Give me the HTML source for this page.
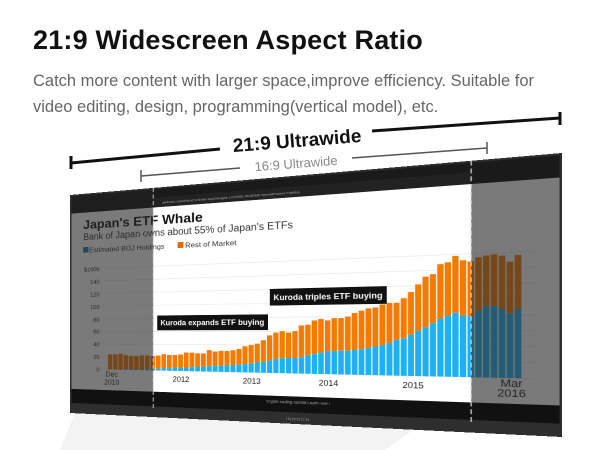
<!DOCTYPE html>
<html><head><meta charset="utf-8"><style>
html,body{margin:0;padding:0;background:#fff;width:600px;height:450px;overflow:hidden;font-family:"Liberation Sans",sans-serif}
#h{position:absolute;left:33px;top:25px;font-size:27px;font-weight:bold;color:#111;letter-spacing:0.2px}
#s{position:absolute;left:33px;top:68px;font-size:16.5px;line-height:26px;color:#666;width:530px}
#mon{position:absolute;left:0;top:0;width:520px;height:280px;transform-origin:0 0;background:#2e2e2e}
</style></head><body>
<svg width="600" height="450" style="position:absolute;left:0;top:0">
<polygon points="75,412 420,425 385,450 60,450" fill="#f3f3f3"/>
</svg>
<div id="h">21:9 Widescreen Aspect Ratio</div>
<div id="s">Catch more content with larger space,improve efficiency. Suitable for video editing, design, programming(vertical model), etc.</div>
<div id="mon">
<svg width="520" height="280" viewBox="0 0 520 280" style="position:absolute;left:0;top:0">
<rect x="0" y="0" width="520" height="280" fill="#2e2e2e"/>
<rect x="2" y="2" width="516" height="265" fill="#1a1a1a"/>
<rect x="109" y="12" width="334" height="12" fill="#222"/>
<text x="120" y="20" font-size="4" fill="#aaa">attributes   GameViewController   AppDelegate   LICENSE   README   SpecialPowers   Partition</text>
<rect x="2" y="24" width="516" height="225" fill="#fff"/>
<g id="bars"></g>
<g font-family="Liberation Sans" font-size="7.5" fill="#333" text-anchor="end">
<text x="40" y="99">$160b</text><text x="40" y="115">140</text><text x="40" y="131">120</text><text x="40" y="147">100</text><text x="40" y="163">80</text><text x="40" y="178">60</text><text x="40" y="194">40</text><text x="40" y="210">20</text><text x="40" y="226">0</text>
</g>
<text x="18" y="45" font-size="16" font-weight="bold" fill="#111" textLength="151" lengthAdjust="spacingAndGlyphs">Japan's ETF Whale</text>
<text x="18" y="59" font-size="12" fill="#333" textLength="252" lengthAdjust="spacingAndGlyphs">Bank of Japan owns about 55% of Japan's ETFs</text>
<rect x="18" y="68" width="7" height="7" fill="#1a7fb8"/><text x="26" y="75" font-size="8" fill="#333" textLength="97" lengthAdjust="spacingAndGlyphs">Estimated BOJ Holdings</text>
<rect x="139" y="68" width="7" height="7" fill="#e06a00"/><text x="148" y="75" font-size="8" fill="#333" textLength="60" lengthAdjust="spacingAndGlyphs">Rest of Market</text>
<g font-size="9" fill="#222" text-anchor="middle">
<text x="56" y="232">Dec</text><text x="56" y="242">2010</text>
<text x="143" y="236">2012</text><text x="225" y="236">2013</text><text x="307" y="236">2014</text><text x="390" y="236">2015</text>
<text x="478" y="232" font-size="11">Mar</text><text x="478" y="242" font-size="11">2016</text>
</g>
<rect x="114" y="156" width="129" height="18" fill="#111"/><text x="118" y="168" font-size="9" font-weight="bold" fill="#fff" textLength="121" lengthAdjust="spacingAndGlyphs">Kuroda expands ETF buying</text>
<rect x="245" y="127" width="120" height="19" fill="#111"/><text x="249" y="140" font-size="9.5" font-weight="bold" fill="#fff" textLength="112" lengthAdjust="spacingAndGlyphs">Kuroda triples ETF buying</text>
<rect x="2" y="24" width="107" height="225" fill="rgba(40,40,40,0.62)"/>
<rect x="443" y="24" width="75" height="225" fill="rgba(40,40,40,0.62)"/>
<rect x="2" y="2" width="107" height="22" fill="#1e1e1e"/>
<rect x="2" y="249" width="516" height="18" fill="#111"/>
<text x="275" y="257" font-size="4.5" fill="#aaa" text-anchor="middle">Crypto trading tutorial  Learn now ›</text>
<text x="275" y="276" font-size="5" fill="#999" text-anchor="middle" letter-spacing="1">INNOCN</text>
<line x1="109" y1="0" x2="109" y2="270" stroke="#ccc" stroke-width="1.2" stroke-dasharray="5,3"/>
<line x1="443" y1="0" x2="443" y2="270" stroke="#ccc" stroke-width="1.2" stroke-dasharray="5,3"/>
</svg>
</div>
<svg width="600" height="450" style="position:absolute;left:0;top:0">
<line x1="71" y1="163" x2="220" y2="149" stroke="#111" stroke-width="3"/>
<line x1="372" y1="131" x2="560" y2="118" stroke="#111" stroke-width="3"/>
<line x1="71" y1="156" x2="71" y2="169" stroke="#111" stroke-width="3"/>
<line x1="560" y1="112" x2="560" y2="125" stroke="#111" stroke-width="3"/>
<text x="297" y="147" font-size="19" font-weight="bold" fill="#111" text-anchor="middle" transform="rotate(-4.5 297 140)">21:9 Ultrawide</text>
<line x1="141" y1="176" x2="240" y2="168" stroke="#555" stroke-width="1.5"/>
<line x1="352" y1="158" x2="487" y2="148" stroke="#555" stroke-width="1.5"/>
<line x1="141" y1="170" x2="141" y2="182" stroke="#555" stroke-width="1.5"/>
<line x1="487" y1="142" x2="487" y2="154" stroke="#555" stroke-width="1.5"/>
<text x="296" y="168" font-size="13" fill="#888" text-anchor="middle" transform="rotate(-4.5 296 163)">16:9 Ultrawide</text>
</svg>
<script>
var T=[24,24,25,23,22,22,23,23,22,23,25,24,24,25,28,28,27,27,32,30,31,31,32,34,38,40,42,47,54,58,60,58,60,68,69,75,77,75,78,78,80,85,88,91,92,96,98,98,104,112,122,132,135,148,150,158,152,150,155,157,158,156,148,156];
var B=[0,0,0,1,1,1,1,2,2,3,4,4,5,5,5,6,7,7,8,9,9,10,10,11,12,13,15,16,18,20,21,22,22,23,26,28,30,32,32,33,33,34,35,37,39,41,44,48,50,55,60,65,70,76,80,84,80,79,86,92,92,88,82,88];
var g=document.getElementById('bars'),s='',x0=51,w=6.82,base=223,k=0.795;
for(var j=0;j<9;j++){var y=base-j*15.9;s+='<line x1="44" x2="500" y1="'+y+'" y2="'+y+'" stroke="#e4e4e4" stroke-width="0.6"/>';}
for(var i=0;i<T.length;i++){var x=x0+i*w;var ht=T[i]*k,hb=B[i]*k;
s+='<rect x="'+x+'" y="'+(base-ht)+'" width="'+(w-1.1)+'" height="'+(ht-hb)+'" fill="#f47a00"/>';
s+='<rect x="'+x+'" y="'+(base-hb)+'" width="'+(w-1.1)+'" height="'+hb+'" fill="#1eb0f4"/>';}
g.innerHTML=s;
var W=520,H=280,P=[[70,195],[562,153],[562,437],[70,413]];
var x0_=P[0][0],y0=P[0][1],x1=P[1][0],y1=P[1][1],x2=P[2][0],y2=P[2][1],x3=P[3][0],y3=P[3][1];
var dx1=x1-x2,dx2=x3-x2,dx3=x0_-x1+x2-x3,dy1=y1-y2,dy2=y3-y2,dy3=y0-y1+y2-y3;
var den=dx1*dy2-dx2*dy1;
var gg=(dx3*dy2-dx2*dy3)/den,hh=(dx1*dy3-dx3*dy1)/den;
var a=x1-x0_+gg*x1,b=x3-x0_+hh*x3,c=x0_,d=y1-y0+gg*y1,e=y3-y0+hh*y3,f=y0;
a/=W;d/=W;gg/=W;b/=H;e/=H;hh/=H;
document.getElementById('mon').style.transform='matrix3d('+[a,d,0,gg,b,e,0,hh,0,0,1,0,c,f,0,1].join(',')+')';
</script>
</body></html>
